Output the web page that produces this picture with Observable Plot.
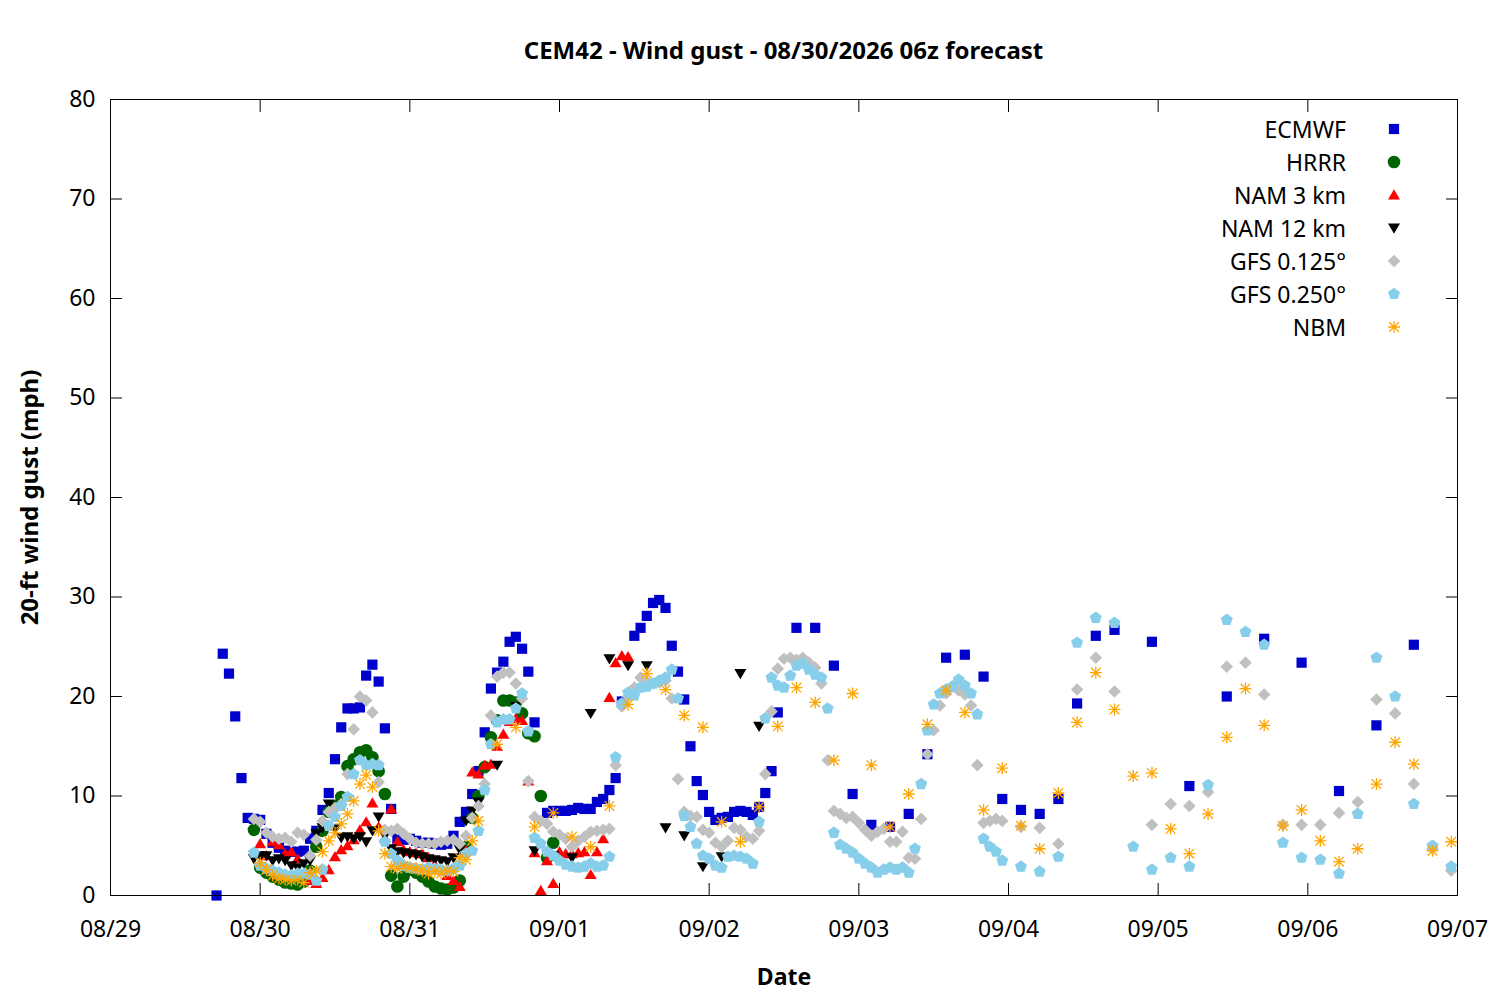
<!DOCTYPE html>
<html><head><meta charset="utf-8">
<script src="https://cdn.jsdelivr.net/npm/d3@7"></script>
<script src="https://cdn.jsdelivr.net/npm/@observablehq/plot@0.6"></script>
<style>
body{margin:0;background:#fff;font-family:"Noto Sans",sans-serif;}
#wrap{position:relative;width:1500px;height:1000px;overflow:hidden;}
#title{height:80px;box-sizing:border-box;padding:35px 43px 0 110px;text-align:center;font-weight:bold;font-size:24px;line-height:30px;color:#000;}
.lg{position:absolute;font-size:23px;line-height:28px;color:#000;white-space:nowrap;}
</style></head><body>
<div id="wrap"><div id="title"></div><div id="chart"></div><div id="legend"></div></div>
<script>
// ---------- data (hour offsets from 08/29 00:00, wind gust mph) ----------
const TITLE = "CEM42 - Wind gust - 08/30/2026 06z forecast";
const START = "2026-08-29T00:00:00Z";
const xTickLabels = ["08/29","08/30","08/31","09/01","09/02","09/03","09/04","09/05","09/06","09/07"];
const yTicks = [0,10,20,30,40,50,60,70,80];
const modelNames = ["ECMWF","HRRR","NAM 3 km","NAM 12 km","GFS 0.125°","GFS 0.250°","NBM"];

const ecmwf = [[17,0],[18,24.3],[19,22.3],[20,18.0],[21,11.8],[22,7.8],[23,7.7],[24,7.6],[25,6.2],[26,5.3],[27,4.8],[28,4.5],[29,4.4],[30,4.4],[31,4.5],[32,5.7],[33,6.5],[34,8.6],[35,10.3],[36,13.7],[37,16.9],[38,18.8],[39,18.8],[40,18.9],[41,22.1],[42,23.2],[43,21.5],[44,16.8],[45,8.7],[46,5.7],[47,5.6],[48,5.7],[49,5.5],[50,5.3],[51,5.3],[52,5.2],[53,5.1],[54,5.2],[55,6.0],[56,7.4],[57,8.4],[58,10.2],[59,12.5],[60,16.4],[61,20.8],[62,22.4],[63,23.5],[64,25.5],[65,26.0],[66,24.8],[67,22.5],[68,17.4],[70,8.3],[71,8.5],[72,8.5],[73,8.5],[74,8.6],[75,8.8],[76,8.7],[77,8.7],[78,9.4],[79,9.7],[80,10.6],[81,11.8],[82,19.5],[84,26.1],[85,26.9],[86,28.1],[87,29.4],[88,29.7],[89,28.9],[90,25.1],[91,22.5],[92,19.7],[93,15.0],[94,11.5],[95,10.1],[96,8.4],[97,7.6],[98,7.8],[99,7.9],[100,8.4],[101,8.5],[102,8.4],[103,8.1],[104,8.9],[105,10.3],[106,12.5],[107,18.4],[110,26.9],[113,26.9],[116,23.1],[119,10.2],[122,7.1],[125,6.9],[128,8.2],[131,14.2],[134,23.9],[137,24.2],[140,22.0],[143,9.7],[146,8.6],[149,8.2],[152,9.7],[155,19.3],[158,26.1],[161,26.7],[167,25.5],[173,11.0],[179,20.0],[185,25.8],[191,23.4],[197,10.5],[203,17.1],[209,25.2]];

const hrrr = [[23,6.6],[24,2.8],[25,2.3],[26,1.9],[27,1.6],[28,1.3],[29,1.2],[30,1.1],[31,1.4],[32,2.5],[33,4.9],[34,6.5],[35,8.4],[36,9.0],[37,9.9],[38,13.0],[39,13.7],[40,14.4],[41,14.6],[42,13.9],[43,12.5],[44,10.2],[45,2.0],[46,0.9],[47,1.9],[48,2.6],[49,2.3],[50,1.9],[51,1.4],[52,0.9],[53,0.7],[54,0.6],[55,0.8],[56,1.5],[57,4.9],[58,7.8],[59,10.0],[60,12.9],[61,15.9],[62,17.6],[63,19.6],[64,19.6],[65,19.4],[66,18.3],[67,16.3],[68,16.0],[69,10.0],[70,3.8],[71,5.3]];

const nam3 = [[24,5.2],[25,4.0],[26,5.4],[27,5.1],[28,4.2],[29,4.4],[30,3.7],[31,2.2],[32,1.5],[33,1.2],[34,1.8],[35,2.6],[36,3.9],[37,4.6],[38,5.0],[39,5.6],[40,6.6],[41,7.4],[42,9.3],[43,6.9],[44,5.8],[45,8.7],[46,5.4],[47,4.6],[48,4.4],[49,4.3],[50,4.2],[51,3.8],[52,3.1],[53,2.6],[54,2.0],[55,1.5],[56,0.9],[57,4.5],[58,12.4],[59,12.2],[60,13.1],[61,13.2],[62,15.0],[63,16.2],[64,17.5],[65,17.8],[66,17.6],[67,11.5],[68,4.3],[69,0.5],[70,3.5],[71,1.2],[72,4.4],[73,4.2],[74,4.2],[75,4.3],[76,4.4],[77,2.1],[78,4.4],[79,5.7],[80,19.9],[81,23.4],[82,24.1],[83,24.0]];

const nam12 = [[23,3.7],[24,4.0],[25,4.0],[26,3.5],[27,3.7],[28,3.5],[29,3.0],[30,2.8],[31,3.2],[32,3.5],[33,6.2],[34,6.8],[35,9.2],[36,6.7],[37,5.8],[38,5.9],[39,5.7],[40,5.9],[41,5.4],[42,6.5],[43,7.9],[44,6.0],[45,4.7],[46,4.4],[47,4.3],[48,4.2],[49,4.1],[50,3.9],[51,3.7],[52,3.6],[53,3.5],[54,3.4],[55,3.8],[56,4.6],[57,7.5],[58,8.5],[59,9.4],[62,13.1],[65,19.0],[68,4.5],[71,4.0],[74,3.8],[77,18.3],[80,23.8],[83,23.1],[86,23.1],[89,6.8],[92,6.0],[95,2.9],[98,3.9],[101,22.3],[104,17.0]];

const gfs125 = [[23,7.7],[24,7.4],[25,6.3],[26,5.9],[27,5.7],[28,5.8],[29,5.4],[30,6.3],[31,6.1],[32,4.0],[33,5.6],[34,7.5],[35,8.4],[36,8.8],[37,9.2],[38,12.2],[39,16.7],[40,20.0],[41,19.6],[42,18.4],[43,11.4],[44,6.6],[45,6.5],[46,6.7],[47,6.2],[48,5.7],[49,5.3],[50,5.2],[51,5.2],[52,5.2],[53,5.4],[54,5.5],[55,5.6],[56,5.2],[57,6.0],[58,7.8],[59,9.0],[60,11.2],[61,18.1],[62,22.0],[63,22.4],[64,22.4],[65,21.3],[66,19.8],[67,11.5],[68,7.9],[69,7.5],[70,7.2],[71,6.4],[72,6.1],[73,5.7],[74,4.9],[75,5.5],[76,5.9],[77,6.4],[78,6.5],[79,6.6],[80,6.7],[81,13.1],[82,19.0],[83,20.0],[84,20.9],[85,21.9],[86,21.5],[87,21.3],[88,21.4],[89,21.6],[90,19.8],[91,11.7],[92,8.4],[93,8.0],[94,7.9],[95,6.6],[96,6.3],[97,5.3],[98,4.9],[99,5.5],[100,6.8],[101,6.6],[102,5.9],[103,5.7],[104,6.5],[105,12.2],[106,18.5],[107,22.8],[108,23.8],[109,23.9],[110,23.7],[111,23.9],[112,23.4],[113,22.9],[114,21.3],[115,13.6],[116,8.5],[117,8.2],[118,7.8],[119,7.9],[120,7.3],[121,6.6],[122,6.0],[123,6.4],[124,6.7],[125,5.4],[126,5.4],[127,6.4],[128,3.8],[129,3.7],[130,7.7],[131,14.2],[132,16.6],[133,19.1],[134,20.3],[135,21.0],[136,20.6],[137,20.2],[138,19.1],[139,13.1],[140,7.3],[141,7.5],[142,7.7],[143,7.5],[146,6.9],[149,6.8],[152,5.2],[155,20.7],[158,23.9],[161,20.5],[167,7.1],[170,9.2],[173,9.0],[176,10.4],[179,23.0],[182,23.4],[185,20.2],[188,7.1],[191,7.1],[194,7.1],[197,8.3],[200,9.4],[203,19.7],[206,18.3],[209,11.2],[212,4.7],[215,2.5]];

const gfs250 = [[23,4.3],[24,3.0],[25,2.7],[26,2.5],[27,2.3],[28,2.1],[29,2.0],[30,2.2],[31,2.2],[32,2.1],[33,1.5],[34,2.6],[35,7.0],[36,7.9],[37,9.0],[38,9.9],[39,12.2],[40,13.6],[41,13.1],[42,13.2],[43,13.1],[44,5.4],[45,4.2],[46,3.5],[47,3.0],[48,2.8],[49,2.7],[50,2.6],[51,2.8],[52,2.7],[53,2.6],[54,2.5],[55,2.7],[56,3.0],[57,4.2],[58,4.5],[59,6.5],[60,10.6],[61,15.2],[62,17.4],[63,17.7],[64,17.7],[65,18.8],[66,20.3],[67,16.5],[68,5.8],[69,5.2],[70,4.4],[71,4.0],[72,3.5],[73,3.1],[74,2.9],[75,2.8],[76,2.9],[77,3.2],[78,2.9],[79,3.0],[80,3.9],[81,13.9],[82,19.3],[83,20.4],[84,20.1],[85,20.9],[86,21.0],[87,21.3],[88,21.6],[89,21.9],[90,22.7],[91,19.8],[92,8.0],[93,6.9],[94,5.2],[95,4.0],[96,3.7],[97,3.0],[98,2.8],[99,3.9],[100,4.0],[101,3.9],[102,3.7],[103,3.2],[104,7.4],[105,17.8],[106,21.9],[107,21.1],[108,20.9],[109,22.1],[110,23.1],[111,23.3],[112,22.7],[113,22.2],[114,21.9],[115,18.8],[116,6.3],[117,5.1],[118,4.7],[119,4.3],[120,3.7],[121,3.2],[122,2.8],[123,2.3],[124,2.6],[125,2.8],[126,2.6],[127,2.8],[128,2.3],[129,4.7],[130,11.2],[131,16.6],[132,19.2],[133,20.3],[134,20.7],[135,21.0],[136,21.7],[137,21.1],[138,20.3],[139,18.2],[140,5.7],[141,4.9],[142,4.4],[143,3.5],[146,2.9],[149,2.4],[152,3.9],[155,25.4],[158,27.9],[161,27.4],[164,4.9],[167,2.6],[170,3.8],[173,2.9],[176,11.1],[179,27.7],[182,26.5],[185,25.2],[188,5.3],[191,3.8],[194,3.6],[197,2.2],[200,8.2],[203,23.9],[206,20.0],[209,9.2],[212,5.0],[215,2.9]];

const nbm = [[24,3.3],[25,2.6],[26,2.0],[27,1.7],[28,1.6],[29,1.5],[30,1.6],[31,1.3],[32,2.3],[33,2.5],[34,4.4],[35,5.5],[36,6.3],[37,7.2],[38,8.2],[39,9.5],[40,11.2],[41,12.1],[42,10.9],[43,6.5],[44,4.2],[45,2.9],[46,2.7],[47,3.0],[48,2.8],[49,2.7],[50,2.5],[51,2.2],[52,2.4],[53,2.2],[54,2.5],[55,2.4],[56,3.8],[57,3.6],[58,5.5],[59,7.5],[62,15.2],[65,16.9],[68,6.9],[71,8.3],[74,5.9],[77,4.9],[80,9.0],[83,19.2],[86,22.3],[89,20.7],[92,18.1],[95,16.9],[98,7.4],[101,5.4],[104,8.9],[107,17.0],[110,20.9],[113,19.4],[116,13.6],[119,20.3],[122,13.1],[125,6.9],[128,10.2],[131,17.2],[134,20.6],[137,18.4],[140,8.6],[143,12.8],[146,7.0],[149,4.7],[152,10.3],[155,17.4],[158,22.4],[161,18.7],[164,12.0],[167,12.3],[170,6.7],[173,4.2],[176,8.2],[179,15.9],[182,20.8],[185,17.1],[188,7.0],[191,8.6],[194,5.5],[197,3.4],[200,4.7],[203,11.2],[206,15.4],[209,13.2],[212,4.5],[215,5.4]];

// ---------- symbols ----------
const R = s => Math.sqrt(s / Math.PI);
const symSquare = {draw(c, s){ const r = R(s)*0.85; c.rect(-r, -r, 2*r, 2*r); }};
const symCircle = {draw(c, s){ const r = R(s)*1.05; c.moveTo(r, 0); c.arc(0, 0, r, 0, 2*Math.PI); }};
const symTriUp = {draw(c, s){ const r = R(s); c.moveTo(0, -r*0.95); c.lineTo(r, r*0.75); c.lineTo(-r, r*0.75); c.closePath(); }};
const symTriDown = {draw(c, s){ const r = R(s); c.moveTo(0, r*0.95); c.lineTo(r, -r*0.75); c.lineTo(-r, -r*0.75); c.closePath(); }};
const symDiamond = {draw(c, s){ const r = R(s)*1.05; c.moveTo(0, -r); c.lineTo(r, 0); c.lineTo(0, r); c.lineTo(-r, 0); c.closePath(); }};
const symPentagon = {draw(c, s){ const r = R(s)*1.05; for (let i = 0; i < 5; i++){ const a = -Math.PI/2 + i*2*Math.PI/5; const px = r*Math.cos(a), py = r*Math.sin(a); i ? c.lineTo(px, py) : c.moveTo(px, py);} c.closePath(); }};
const symAsterisk = {draw(c, s){ const r = R(s); const d = r*0.8; c.moveTo(0,-r); c.lineTo(0,r); c.moveTo(-r,0); c.lineTo(r,0); c.moveTo(-d,-d); c.lineTo(d,d); c.moveTo(-d,d); c.lineTo(d,-d); }};

const series = [
  {name: modelNames[0], data: ecmwf, symbol: symSquare, color: "#0000cc", filled: true},
  {name: modelNames[1], data: hrrr, symbol: symCircle, color: "#006400", filled: true},
  {name: modelNames[2], data: nam3, symbol: symTriUp, color: "#ff0000", filled: true},
  {name: modelNames[3], data: nam12, symbol: symTriDown, color: "#000000", filled: true},
  {name: modelNames[4], data: gfs125, symbol: symDiamond, color: "#c0c0c0", filled: true},
  {name: modelNames[5], data: gfs250, symbol: symPentagon, color: "#87ceeb", filled: true},
  {name: modelNames[6], data: nbm, symbol: symAsterisk, color: "#ffa500", filled: false}
];

const t0 = Date.parse(START);
const toTime = h => new Date(t0 + h * 3600e3);
const xTicks = xTickLabels.map((_, i) => toTime(24 * i));
const labelOf = new Map(xTicks.map((t, i) => [+t, xTickLabels[i]]));

document.getElementById("title").textContent = TITLE;

const marks = [];
for (const s of series) {
  marks.push(Plot.dot(s.data, {
    x: d => toTime(d[0]), y: d => d[1], symbol: s.symbol, r: 6,
    fill: s.filled ? s.color : "none",
    stroke: s.filled ? "none" : s.color,
    strokeWidth: s.filled ? 0 : 1.3
  }));
}

const chart = Plot.plot({
  width: 1500, height: 920,
  marginTop: 19, marginBottom: 105, marginLeft: 110, marginRight: 43,
  style: {fontFamily: "'Noto Sans', sans-serif", fontSize: "23px", background: "#fff", color: "#000", overflow: "visible"},
  x: {type: "utc", domain: [xTicks[0], xTicks[xTicks.length - 1]]},
  y: {domain: [0, 80]},
  marks: [
    ...marks,
    Plot.frame({stroke: "#000", strokeWidth: 1}),
    Plot.axisY({anchor: "left", ticks: yTicks, tickSize: 0, tickPadding: 15, fontSize: 23, label: null}),
    Plot.axisY({anchor: "left", ticks: yTicks, tickSize: -12, tickFormat: () => "", label: null}),
    Plot.axisY({anchor: "right", ticks: yTicks, tickSize: -12, tickFormat: () => "", label: null}),
    Plot.axisX({anchor: "bottom", ticks: xTicks, tickSize: 0, tickPadding: 25, fontSize: 23, tickFormat: d => labelOf.get(+d), label: null}),
    Plot.axisX({anchor: "bottom", ticks: xTicks, tickSize: -12, tickFormat: () => "", label: null}),
    Plot.axisX({anchor: "top", ticks: xTicks, tickSize: -12, tickFormat: () => "", label: null}),
    Plot.text(["20-ft wind gust (mph)"], {frameAnchor: "left", textAnchor: "middle", lineAnchor: "middle", rotate: -90, dx: -80, fontWeight: "bold", fontSize: 24}),
    Plot.text(["Date"], {frameAnchor: "bottom", textAnchor: "middle", lineAnchor: "middle", dy: 82, fontWeight: "bold", fontSize: 23})
  ]
});
document.getElementById("chart").appendChild(chart);

// ---------- legend (inside plot, top right) ----------
const lg = document.getElementById("legend");
series.forEach((s, i) => {
  const cy = 129 + 33 * i;
  const lab = document.createElement("div");
  lab.className = "lg";
  lab.style.right = (1500 - 1346) + "px";
  lab.style.top = (cy - 14) + "px";
  lab.textContent = s.name;
  lg.appendChild(lab);
  const svg = d3.create("svg").attr("width", 20).attr("height", 20)
    .style("position", "absolute").style("left", (1394 - 10) + "px").style("top", (cy - 10) + "px");
  svg.append("path").attr("transform", "translate(10,10)")
    .attr("d", d3.symbol().type(s.symbol).size(Math.PI * 36)())
    .attr("fill", s.filled ? s.color : "none")
    .attr("stroke", s.filled ? "none" : s.color)
    .attr("stroke-width", s.filled ? 0 : 1.3);
  lg.appendChild(svg.node());
});
</script>
</body></html>
